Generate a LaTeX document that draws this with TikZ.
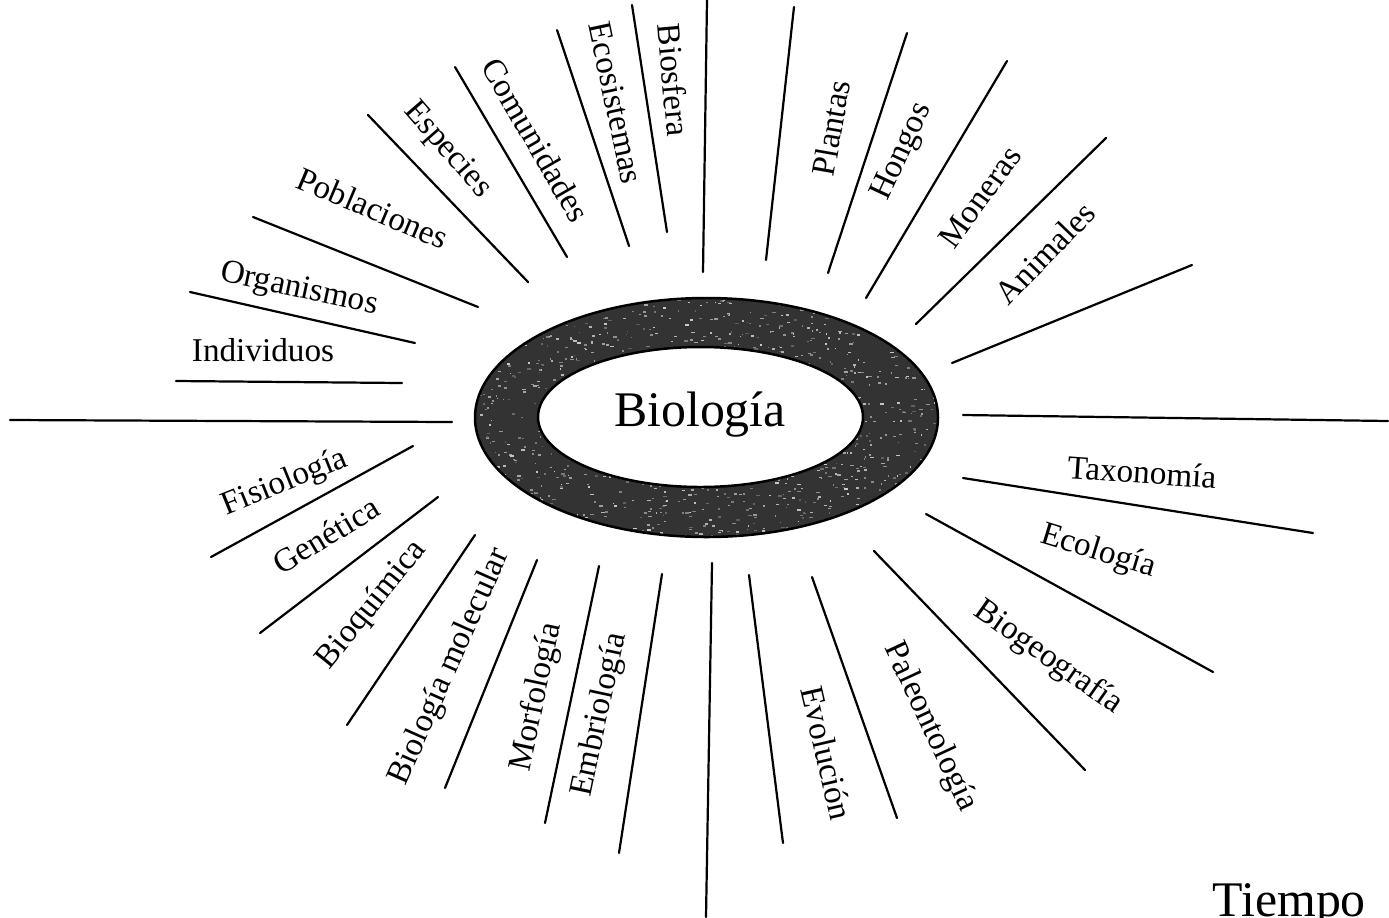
\documentclass[tikz,border=0pt]{standalone}
\usepackage{fontspec}
\setmainfont{Liberation Serif}

\tikzset{
  spoke/.style={line width=0.8pt},
  lbl/.style={font=\fontsize{12}{14}\selectfont, inner sep=0pt},
  big/.style={font=\fontsize{18}{21}\selectfont, inner sep=0pt}
}

\begin{document}
\begin{tikzpicture}[line cap=round,line join=round,x=0.0127cm,y=-0.0127cm]
		\useasboundingbox (0,0) rectangle (1389,917);
		% ring around the centre
		\coordinate (ro) at (706.5,417.5);
		\coordinate (ri) at (700.5,417);
		\fill[black!80,even odd rule] (ro) ellipse [x radius=231.5, y radius=119.5] (ri) ellipse [x radius=162.5, y radius=70];
		\begin{scope}[even odd rule]
			\clip (ro) ellipse [x radius=231.5, y radius=119.5] (ri) ellipse [x radius=162.5, y radius=70];
			\pgfmathsetseed{11}
			% grainy print texture
			\foreach \i in {1,...,1400} {
				\pgfmathsetmacro{\px}{706+235*rand}
				\pgfmathsetmacro{\py}{417+122*rand}
				\pgfmathsetmacro{\pw}{1+3*rnd}
				\pgfmathsetmacro{\pg}{20+45*rnd}
				\fill[black!\pg] (\px,\py) rectangle ++(\pw,1.5);
			}
		\end{scope}
		\draw[line width=0.9pt] (ro) ellipse [x radius=231.5, y radius=119.5];
		\draw[line width=0.9pt] (ri) ellipse [x radius=162.5, y radius=70];
		\node[big] (bio) at (700,415) {Biología};
		% spokes, upper half
		\draw [spoke] (10,420)-- (452,422);
		\draw [spoke] (176,381)-- (402,383);
		\draw [spoke] (190,292)-- (415,343);
		\draw [spoke] (253,217)-- (478,307);
		\draw [spoke] (368,115)-- (528,282);
		\draw [spoke] (455,67)-- (567,257);
		\draw [spoke] (557,30)-- (629,246);
		\draw [spoke] (632,5)-- (667,232);
		\draw [spoke] (707,0)-- (703,272);
		\draw [spoke] (794,7)-- (766,260);
		\draw [spoke] (907,33)-- (828,273);
		\draw [spoke] (1007,61)-- (866,298);
		\draw [spoke] (1106,138)-- (916,324);
		\draw [spoke] (1192,265)-- (952,363);
		% spokes, lower half
		\draw [spoke] (963,415)-- (1388,421);
		\draw [spoke] (963,478)-- (1313,533);
		\draw [spoke] (926,514)-- (1213,672);
		\draw [spoke] (874,551)-- (1085,770);
		\draw [spoke] (812,577)-- (897,818);
		\draw [spoke] (749,575)-- (783,843);
		\draw [spoke] (712,563)-- (706,917);
		\draw [spoke] (662,574)-- (619,853);
		\draw [spoke] (599,566)-- (545,823);
		\draw [spoke] (537,560)-- (445,788);
		\draw [spoke] (475,535)-- (347,725);
		\draw [spoke] (438,497)-- (260,633);
		\draw [spoke] (413,446)-- (211,557);
		% labels
		\node[lbl] (indiv) at (263,350) {Individuos};
		\node[lbl,rotate=-12] (organ) at (299,290) {Organismos};
		\node[lbl,rotate=-23] (pobl) at (373,208) {Poblaciones};
		\node[lbl,rotate=-49] (espec) at (447,150) {Especies};
		\node[lbl,rotate=-60] (comun) at (536,140) {Comunidades};
		\node[lbl,rotate=-78] (ecosis) at (616,103) {Ecosistemas};
		\node[lbl,rotate=-85] (biosf) at (674,80) {Biosfera};
		\node[lbl,rotate=80] (plant) at (831,128) {Plantas};
		\node[lbl,rotate=65] (hongo) at (903,152) {Hongos};
		\node[lbl,rotate=54] (moner) at (980,197) {Moneras};
		\node[lbl,rotate=46] (anim) at (1045,253) {Animales};
		\node[lbl,rotate=-4] (taxon) at (1142,472) {Taxonomía};
		\node[lbl,rotate=-17] (ecol) at (1098,552) {Ecología};
		\node[lbl,rotate=-35] (biogeo) at (1048,658) {Biogeografía};
		\node[lbl,rotate=-65] (paleo) at (930,727) {Paleontología};
		\node[lbl,rotate=-77] (evol) at (827,753) {Evolución};
		\node[lbl,rotate=78] (embri) at (600,715) {Embriología};
		\node[lbl,rotate=78] (morfo) at (537,697) {Morfología};
		\node[lbl,rotate=66] (biomol) at (450,667) {Biología molecular};
		\node[lbl,rotate=51] (bioq) at (372,605) {Bioquímica};
		\node[lbl,rotate=31] (genet) at (326,535) {Genética};
		\node[lbl,rotate=22] (fisio) at (285,483) {Fisiología};
		\node[big,anchor=base west] (tiempo) at (1212,916) {Tiempo};
	\end{tikzpicture}
\end{document}
